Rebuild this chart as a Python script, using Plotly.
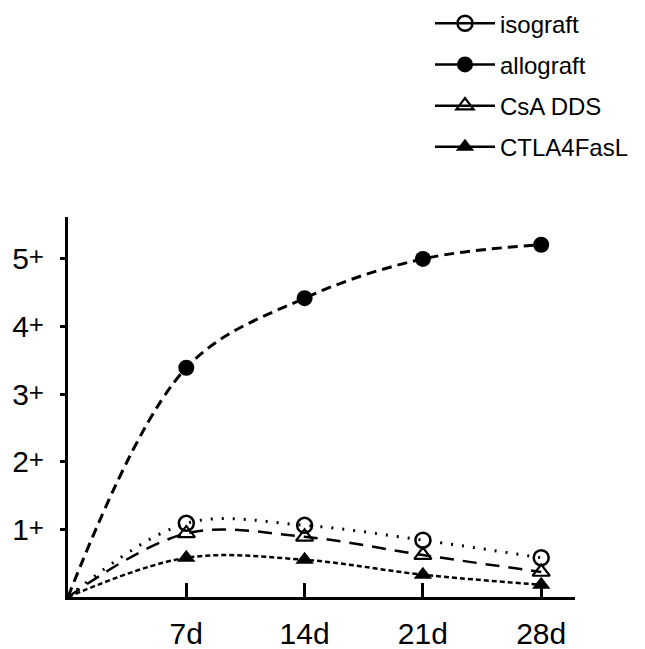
import plotly.graph_objects as go

days = [0, 7, 14, 21, 28]
tick_days = [7, 14, 21, 28]
tick_labels = ["7d", "14d", "21d", "28d"]
y_ticks = [1, 2, 3, 4, 5]
y_tick_labels = ["1", "2", "3", "4", "5"]

isograft = [0, 1.09, 1.06, 0.84, 0.58]
allograft = [0, 3.39, 4.42, 5.00, 5.21]
csa_dds = [0, 0.94, 0.89, 0.62, 0.37]
ctla4fasl = [0, 0.58, 0.55, 0.33, 0.18]

series = [
    ("allograft", allograft, "10px,6px", 3, dict(symbol="circle", size=16, color="black")),
    ("isograft", isograft, "2px,9px", 3, dict(symbol="circle-open", size=15, color="black", line=dict(width=2.5))),
    ("CsA DDS", csa_dds, "14px,9px", 2.5, dict(symbol="triangle-up-open", size=15, color="black", line=dict(width=2.2))),
    ("CTLA4FasL", ctla4fasl, "5px,3px", 2.5, dict(symbol="triangle-up", size=16, color="black")),
]
legend_order = ["isograft", "allograft", "CsA DDS", "CTLA4FasL"]

fig = go.Figure()
for name, vals, dash, w, mk in series:
    fig.add_trace(go.Scatter(
        x=days, y=vals, mode="lines", line=dict(color="black", width=w, dash=dash, shape="spline", smoothing=1.0),
        showlegend=False, hoverinfo="skip"))
for name, vals, dash, w, mk in series:
    fig.add_trace(go.Scatter(
        x=days[1:], y=vals[1:], mode="markers", marker=mk, showlegend=False, name=name))

mk_by_name = {s[0]: s[4] for s in series}
for i, name in enumerate(legend_order):
    fig.add_trace(go.Scatter(
        x=[None], y=[None], mode="lines+markers", name=name,
        line=dict(color="black", width=2.5), marker=mk_by_name[name],
        legendgroup=name, legendrank=i + 1))

fig.update_layout(
    width=637, height=641,
    margin=dict(l=60, r=70, t=209, b=52, autoexpand=False),
    plot_bgcolor="white", paper_bgcolor="white",
    font=dict(family="Liberation Sans, Arial, sans-serif", color="black"),
    legend=dict(x=0.714, y=1.568, xanchor="left", yanchor="top",
                font=dict(size=24), tracegroupgap=7, bgcolor="rgba(0,0,0,0)",
                itemwidth=60),
    xaxis=dict(range=[0, 30], showline=True, linecolor="black", linewidth=3,
               showgrid=False, zeroline=False, tickmode="array", tickvals=tick_days,
               ticktext=tick_labels, ticks="inside", ticklen=14, tickwidth=2.5,
               tickcolor="black", tickfont=dict(size=30), ticklabelstandoff=8,
               automargin=False),
    yaxis=dict(range=[0, 5.62], showline=True, linecolor="black", linewidth=3,
               showgrid=False, zeroline=False, tickmode="array", tickvals=y_ticks,
               ticktext=[t + "<span style='font-size:26px;baseline-shift:4px'>+</span>" for t in y_tick_labels],
               ticks="outside", ticklen=5, tickwidth=2.5, tickcolor="black",
               tickfont=dict(size=30), ticklabelstandoff=10, automargin=False),
)

fig.write_html("out.html")
